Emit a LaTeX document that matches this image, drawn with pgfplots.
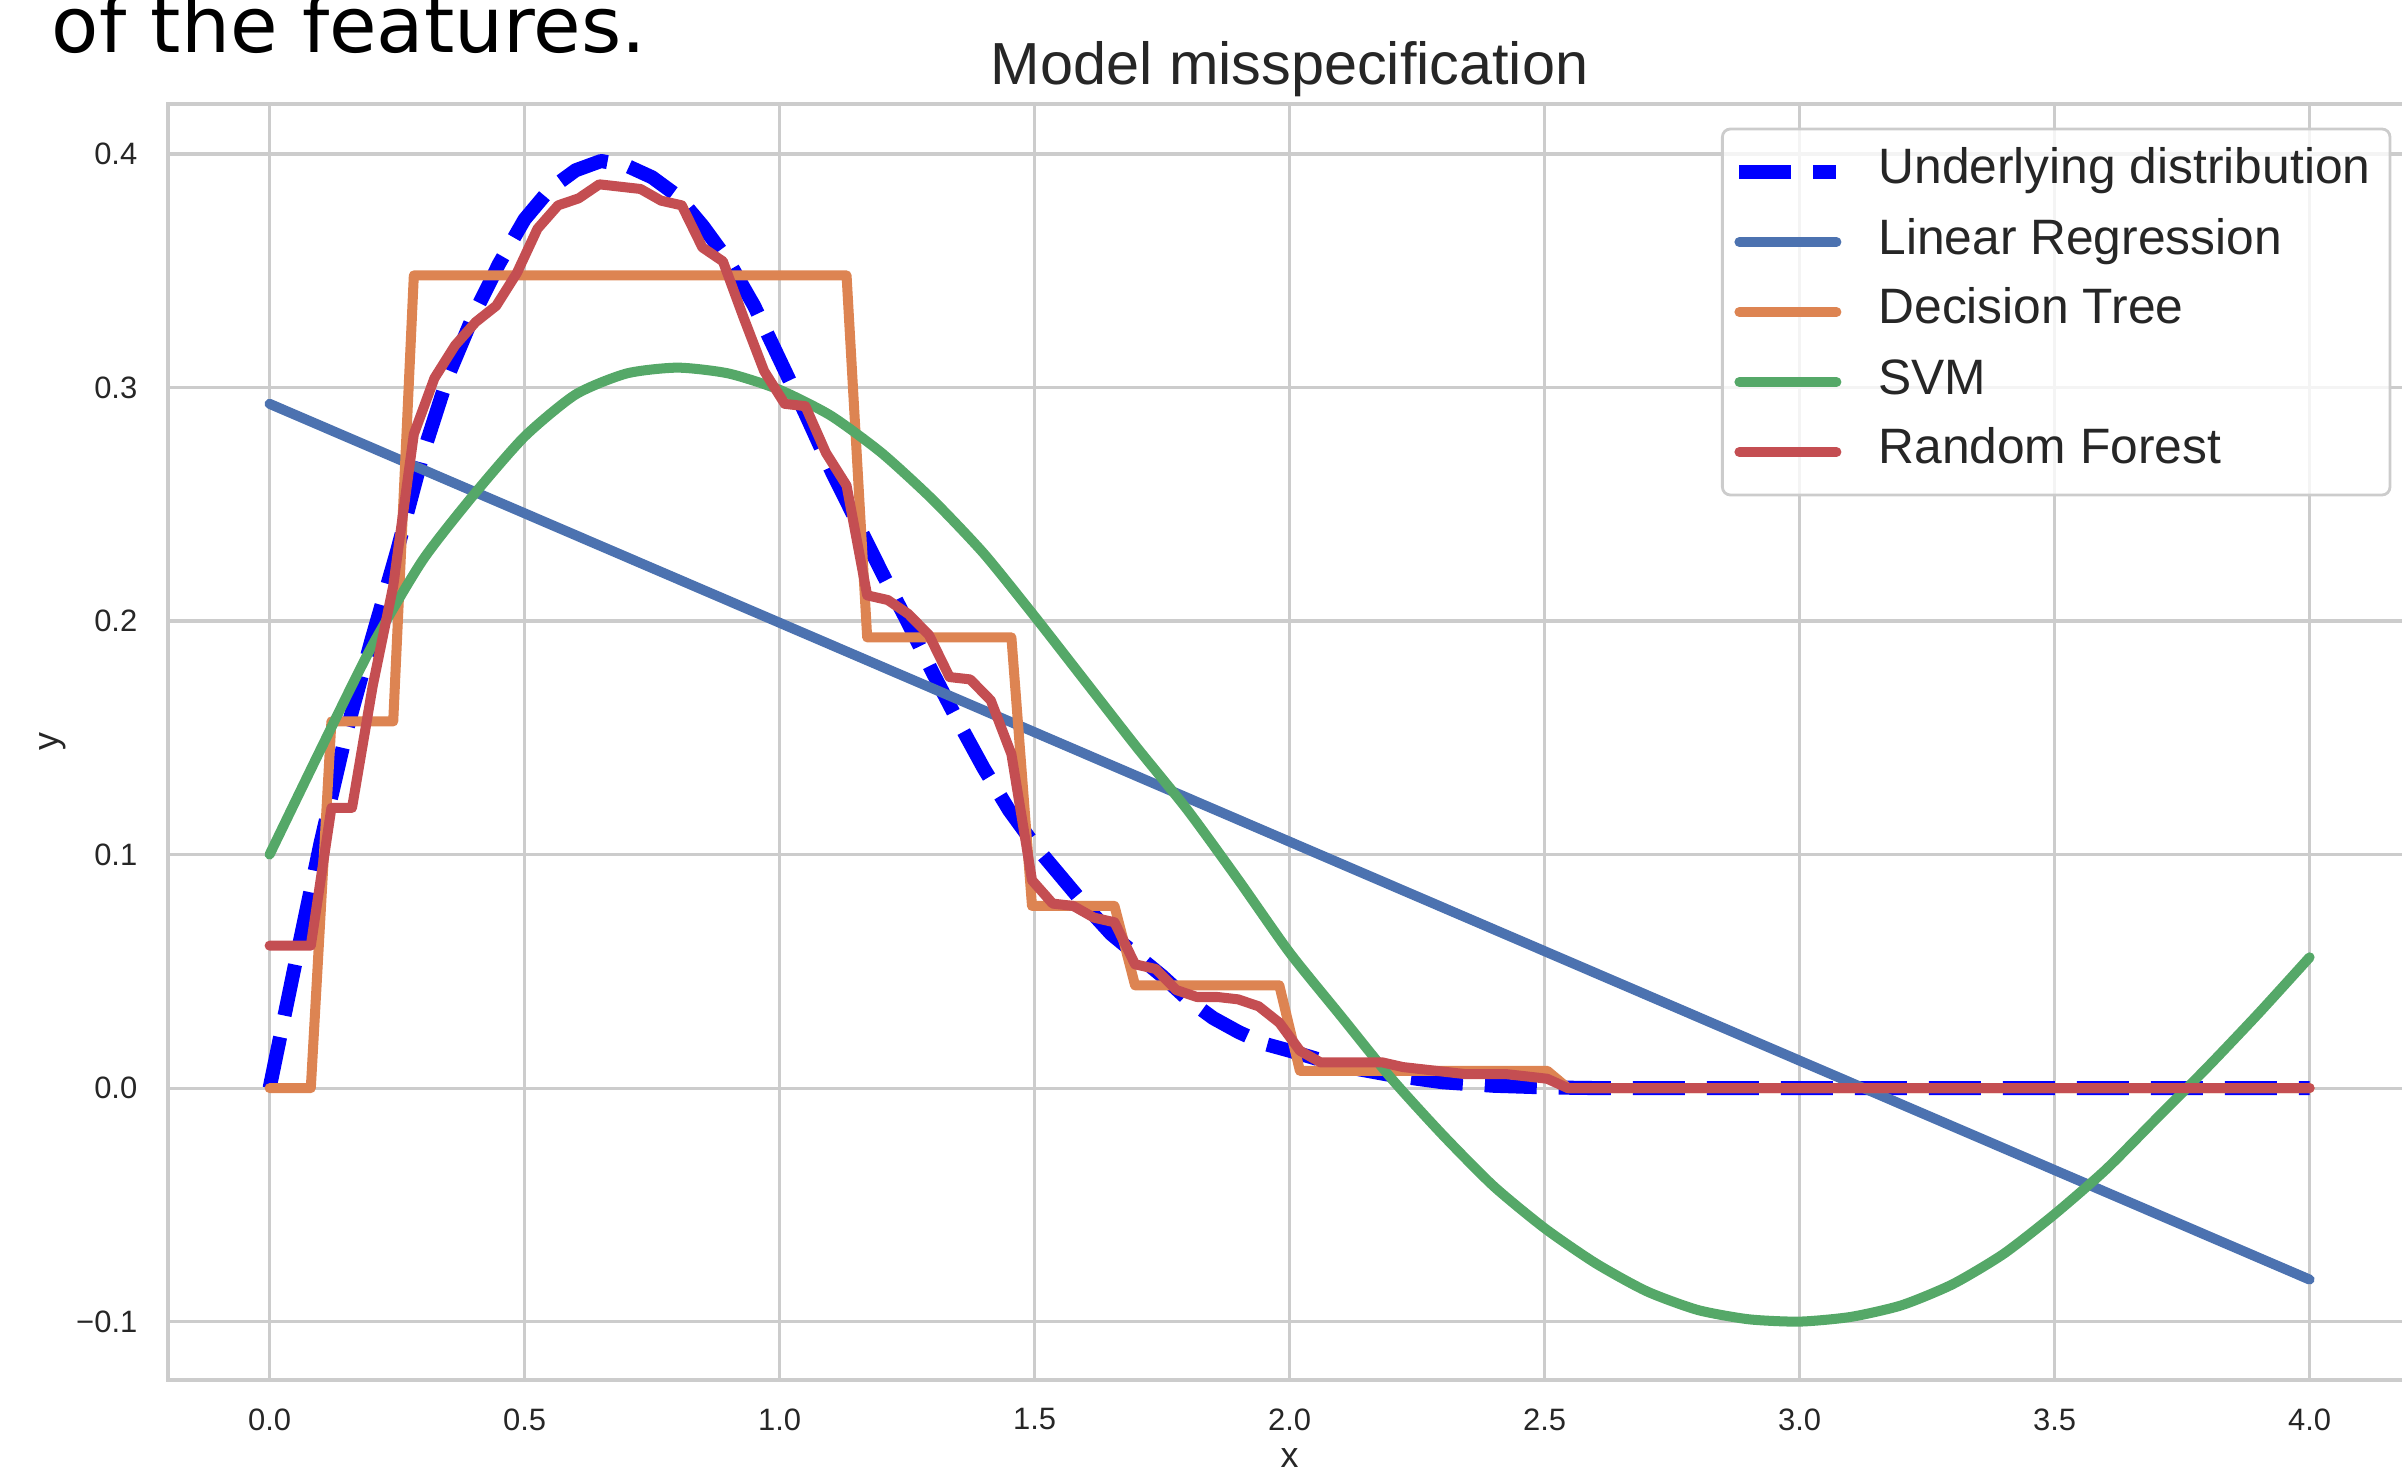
\documentclass[border=0pt]{standalone}
\usepackage{fontspec}
\setmainfont{Liberation Sans}
\newfontfamily\slidefont{DejaVu Sans}
\usepackage{pgfplots}
\pgfplotsset{compat=1.18}

\definecolor{sbblue}{HTML}{4C72B0}
\definecolor{sborange}{HTML}{DD8452}
\definecolor{sbgreen}{HTML}{55A868}
\definecolor{sbred}{HTML}{C44E52}
\definecolor{gridgray}{HTML}{CCCCCC}
\definecolor{textgray}{HTML}{262626}

\begin{document}
\begin{tikzpicture}
% slide text above the figure, cut by the top edge
\node[anchor=base west, inner sep=0pt, font=\slidefont\fontsize{22pt}{26pt}\selectfont]
  at (5.1mm,141.4mm) {of the features.};

\begin{axis}[
    at={(16.76mm,8.7mm)}, anchor=south west,
    scale only axis, width=224.4mm, height=127.6mm,
    xmin=-0.2, xmax=4.2, ymin=-0.125, ymax=0.4214,
    xtick={0,0.5,1,1.5,2,2.5,3,3.5,4},
    xticklabels={0.0,0.5,1.0,1.5,2.0,2.5,3.0,3.5,4.0},
    ytick={-0.1,0,0.1,0.2,0.3,0.4},
    yticklabels={−0.1,0.0,0.1,0.2,0.3,0.4},
    major tick length=0pt,
    tick label style={font=\fontsize{8.8pt}{10pt}\selectfont, text=textgray, inner sep=0pt},
    xticklabel style={anchor=north, yshift=-2.8mm},
    yticklabel style={anchor=east, xshift=-2.96mm},
    grid=major, grid style={gridgray, line width=0.9pt},
    axis line style={gridgray, line width=1.1pt},
    title={Model misspecification},
    every axis title shift=0pt,
    title style={at={(axis description cs:0.5,1.0149)}, anchor=base, inner sep=0pt,
                 font=\fontsize{16.9pt}{20pt}\selectfont, text=textgray},
    xlabel={x}, ylabel={y},
    label style={font=\fontsize{10.2pt}{12pt}\selectfont, text=textgray, inner sep=0pt},
    xlabel style={at={(axis description cs:0.5,-0.0682)}, anchor=base},
    ylabel style={at={(axis description cs:-0.0511,0.5)}, anchor=center},
    every axis plot/.append style={line join=round},
    legend image code/.code={\draw[#1] (0mm,0mm) -- (9.7mm,0mm);},
    legend style={at={(0.991,0.9815)}, anchor=north east,
                  draw=gridgray, line width=0.8pt, rounded corners=0.8mm,
                  fill=white, fill opacity=0.8, text opacity=1,
                  font=\fontsize{14.15pt}{17pt}\selectfont, text=textgray,
                  inner xsep=1.0mm, inner ysep=1.9mm,
                  row sep=2.2mm, column sep=3.5mm,
                  cells={anchor=west},
                  nodes={inner sep=0pt, text height=3.6mm, text depth=1.2mm}},
]

% underlying distribution
\addplot[blue, line width=4pt, dash pattern=on 5.2mm off 2.2mm] coordinates {
  (0,0) (0.05,0.053) (0.10,0.105) (0.15,0.152) (0.20,0.192) (0.25,0.230)
  (0.30,0.271) (0.35,0.305) (0.40,0.331) (0.45,0.353) (0.50,0.372) (0.55,0.385)
  (0.60,0.393) (0.65,0.397) (0.70,0.395) (0.75,0.390) (0.80,0.382) (0.85,0.369)
  (0.90,0.354) (0.95,0.335) (1.00,0.312) (1.05,0.289) (1.10,0.265) (1.15,0.243)
  (1.20,0.221) (1.25,0.200) (1.30,0.178) (1.35,0.157) (1.40,0.137) (1.45,0.119)
  (1.50,0.104) (1.55,0.091) (1.60,0.078) (1.65,0.066) (1.70,0.057) (1.75,0.048)
  (1.80,0.038) (1.85,0.030) (1.90,0.024) (1.95,0.019) (2.00,0.016) (2.10,0.0095)
  (2.20,0.0055) (2.30,0.0025) (2.40,0.001) (2.50,0.0003) (2.60,0) (4.00,0)};
\addlegendentry{Underlying distribution\kern0.95mm}

% linear regression
\addplot[sbblue, line width=2.85pt, line cap=round] coordinates {(0,0.293) (4.0,-0.082)};
\addlegendentry{Linear Regression}

% decision tree
\addplot[sborange, line width=2.85pt, line cap=round] coordinates {
  (0,0) (0.0808,0) (0.1212,0.157) (0.2424,0.157) (0.2828,0.348) (1.1313,0.348)
  (1.1717,0.193) (1.4545,0.193) (1.4949,0.078) (1.6566,0.078) (1.6970,0.044)
  (1.9798,0.044) (2.0202,0.0074) (2.5051,0.0074) (2.5455,0) (4.0,0)};
\addlegendentry{Decision Tree}

% svm
\addplot[sbgreen, line width=2.85pt, line cap=round, smooth, tension=0.4] coordinates {
  (0.0,0.100) (0.1,0.145) (0.2,0.189) (0.3,0.226) (0.4,0.254) (0.5,0.279)
  (0.6,0.297) (0.7,0.306) (0.8,0.3085) (0.9,0.306) (1.0,0.299) (1.1,0.288)
  (1.2,0.272) (1.3,0.252) (1.4,0.229) (1.5,0.202) (1.6,0.174) (1.7,0.146)
  (1.8,0.119) (1.9,0.089) (2.0,0.058) (2.1,0.031) (2.2,0.004) (2.3,-0.020)
  (2.4,-0.042) (2.5,-0.060) (2.6,-0.075) (2.7,-0.087) (2.8,-0.095) (2.9,-0.099)
  (3.0,-0.100) (3.1,-0.098) (3.2,-0.093) (3.3,-0.084) (3.4,-0.071) (3.5,-0.054)
  (3.6,-0.035) (3.7,-0.013) (3.8,0.009) (3.9,0.032) (4.0,0.056)};
\addlegendentry{SVM}

% random forest
\addplot[sbred, line width=2.85pt, line cap=round] coordinates {
  (0,0.061) (0.0404,0.061) (0.0808,0.061) (0.1212,0.120) (0.1616,0.120)
  (0.2020,0.172) (0.2424,0.215) (0.2828,0.280) (0.3232,0.304) (0.3636,0.318)
  (0.4040,0.328) (0.4444,0.335) (0.4848,0.349) (0.5253,0.368) (0.5657,0.378)
  (0.6061,0.381) (0.6465,0.387) (0.6869,0.386) (0.7273,0.385) (0.7677,0.380)
  (0.8081,0.378) (0.8485,0.360) (0.8889,0.354) (0.9293,0.330) (0.9697,0.307)
  (1.0101,0.293) (1.0505,0.292) (1.0909,0.272) (1.1313,0.258) (1.1717,0.211)
  (1.2121,0.209) (1.2525,0.203) (1.2929,0.194) (1.3333,0.176) (1.3737,0.175)
  (1.4141,0.166) (1.4545,0.143) (1.4949,0.089) (1.5354,0.079) (1.5758,0.078)
  (1.6162,0.073) (1.6566,0.071) (1.6970,0.053) (1.7374,0.051) (1.7778,0.042)
  (1.8182,0.039) (1.8586,0.039) (1.8990,0.038) (1.9394,0.035) (1.9798,0.028)
  (2.0202,0.016) (2.0606,0.011) (2.1010,0.011) (2.1414,0.011) (2.1818,0.011)
  (2.2222,0.009) (2.2626,0.008) (2.3030,0.007) (2.3434,0.006) (2.3838,0.006)
  (2.4242,0.006) (2.4646,0.005) (2.5051,0.004) (2.5455,0) (4.0,0)};
\addlegendentry{Random Forest}
\end{axis}

\pgfresetboundingbox
\useasboundingbox (0,0) rectangle (240.2mm,146.7mm);
\end{tikzpicture}
\end{document}
